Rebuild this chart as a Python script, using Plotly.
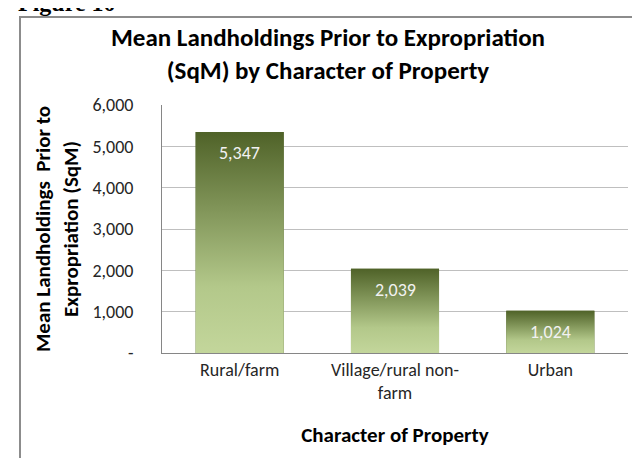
import plotly.graph_objects as go

categories = ["Rural/farm", "Village/rural non-<br>farm", "Urban"]
values = [5347, 2039, 1024]
value_labels = ["5,347", "2,039", "1,024"]
y_tickvals = [0, 1000, 2000, 3000, 4000, 5000, 6000]
y_ticktext = ["-", "1,000", "2,000", "3,000", "4,000", "5,000", "6,000"]

FONT = "Carlito, Calibri, Lato, 'Open Sans', sans-serif"
DARK = "#4f6228"
LIGHT = "#c3d69b"
BAR_W = 0.567

W, H = 640, 458
ML, MR, MT, MB = 154, 20, 97, 113
PW, PH = W - ML - MR, H - MT - MB

def px_x(p):
    return (p - ML) / PW

def px_y(p):
    return (H - MB - p) / PH

fig = go.Figure()

xs = list(range(len(categories)))

fig.add_trace(go.Bar(x=xs, y=values, width=BAR_W, marker=dict(color=DARK, line=dict(width=0)),
                     hoverinfo="skip", showlegend=False))

for i, v in enumerate(values):
    x0, x1 = i - BAR_W / 2, i + BAR_W / 2
    fig.add_trace(go.Scatter(
        x=[x0, x1, x1, x0, x0], y=[0, 0, v, v, 0],
        mode="lines", line=dict(width=0), fill="toself",
        fillgradient=dict(type="vertical", start=0, stop=v,
                          colorscale=[[0, LIGHT], [0.3, "#b3c88a"], [1, DARK]]),
        hoverinfo="skip", showlegend=False))

annotations = []
for i, (v, t) in enumerate(zip(values, value_labels)):
    annotations.append(dict(x=i, y=v, xref="x", yref="y", text=t, showarrow=False,
                            yshift=-21, yanchor="middle",
                            font=dict(family=FONT, size=18, color="#f2f2f2")))

annotations.append(dict(x=px_x(8), y=px_y(10), xref="paper", yref="paper", text="<b>Figure 10</b>",
                        showarrow=False, xanchor="left", yanchor="bottom",
                        font=dict(family="'Liberation Serif', 'Times New Roman', serif", size=24, color="#000000")))

fig.update_layout(
    width=W, height=H,
    margin=dict(l=ML, r=MR, t=MT, b=MB, autoexpand=False),
    paper_bgcolor="white", plot_bgcolor="white",
    title=dict(text="<b>Mean Landholdings Prior to Expropriation<br>(SqM) by Character of Property</b>",
               xref="container", yref="container",
               x=320 / W, xanchor="center", y=1 - 38 / H, yanchor="top",
               font=dict(family=FONT, size=25, color="#000000")),
    font=dict(family=FONT, size=18, color="#404040"),
    annotations=annotations,
    shapes=[dict(type="rect", xref="paper", yref="paper",
                 x0=px_x(12), x1=px_x(700), y0=px_y(9), y1=px_y(520),
                 line=dict(color="#8c8c8c", width=2), layer="below")],
    showlegend=False,
)

fig.update_xaxes(
    range=[-0.5, 2.5], tickmode="array", tickvals=xs, ticktext=categories,
    showgrid=False, zeroline=False, showline=True, linecolor="#868686", linewidth=1,
    ticks="", tickfont=dict(family=FONT, size=18, color="#262626"), ticklabelstandoff=0,
    title=dict(text="<b>Character of Property</b>", font=dict(family=FONT, size=21, color="#000000"), standoff=24),
    fixedrange=True,
)
fig.update_yaxes(
    range=[0, 6000], tickmode="array", tickvals=y_tickvals, ticktext=y_ticktext,
    showgrid=True, gridcolor="#bfbfbf", gridwidth=1, zeroline=False,
    showline=True, linecolor="#868686", linewidth=1, ticks="",
    tickfont=dict(family=FONT, size=18, color="#262626"), ticklabelstandoff=24,
    title=dict(text="<b>Mean Landholdings  Prior to<br>Expropriation (SqM)</b>",
               font=dict(family=FONT, size=21, color="#000000"), standoff=8),
    fixedrange=True,
)

fig.write_html("out.html")
